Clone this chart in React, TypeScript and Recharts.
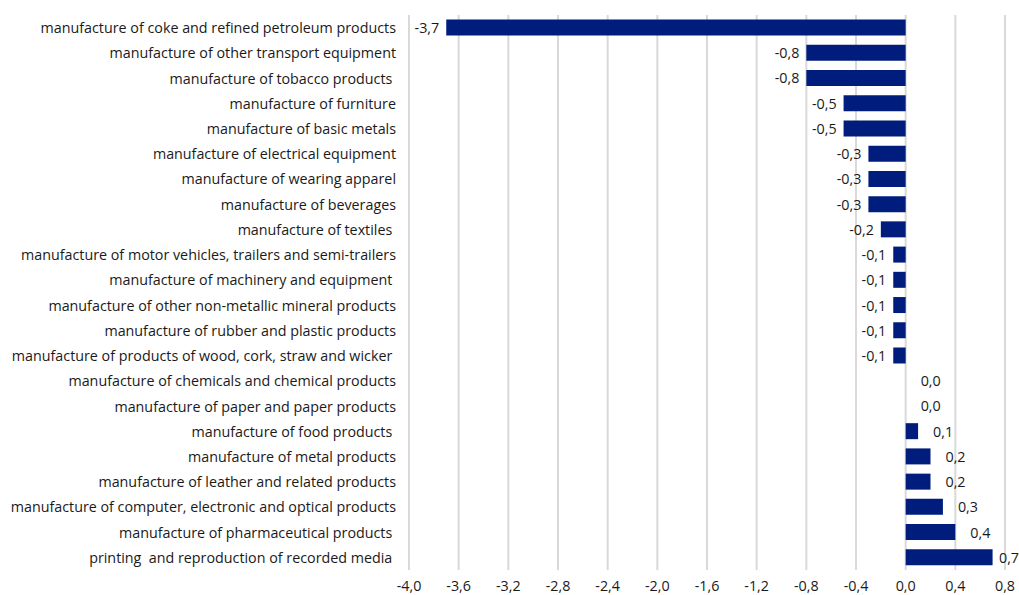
import { Bar, BarChart, CartesianGrid, Cell, LabelList, XAxis, YAxis } from "recharts";

if (typeof document !== "undefined") {
  document.body.style.margin = "0";
}

const sectors = [
  "manufacture of coke and refined petroleum products",
  "manufacture of other transport equipment",
  "manufacture of tobacco products ",
  "manufacture of furniture",
  "manufacture of basic metals",
  "manufacture of electrical equipment",
  "manufacture of wearing apparel",
  "manufacture of beverages",
  "manufacture of textiles ",
  "manufacture of motor vehicles, trailers and semi-trailers",
  "manufacture of machinery and equipment ",
  "manufacture of other non-metallic mineral products",
  "manufacture of rubber and plastic products",
  "manufacture of products of wood, cork, straw and wicker ",
  "manufacture of chemicals and chemical products",
  "manufacture of paper and paper products",
  "manufacture of food products ",
  "manufacture of metal products",
  "manufacture of leather and related products",
  "manufacture of computer, electronic and optical products",
  "manufacture of pharmaceutical products ",
  "printing  and reproduction of recorded media ",
];

const changes = [
  -3.7, -0.8, -0.8, -0.5, -0.5, -0.3, -0.3, -0.3, -0.2, -0.1, -0.1, -0.1, -0.1, -0.1, 0.0, 0.0, 0.1,
  0.2, 0.2, 0.3, 0.4, 0.7,
];

const xTicks = [-4.0, -3.6, -3.2, -2.8, -2.4, -2.0, -1.6, -1.2, -0.8, -0.4, 0.0, 0.4, 0.8];

const fmt = (v: number) => v.toFixed(1).replace(".", ",");

const data = sectors.map((name, i) => ({ name, value: changes[i], label: fmt(changes[i]) }));

const font = "'Open Sans', sans-serif";
const fs = 14.3;
const ink = "#1a1a1a";
const barColor = "#001c7c";

const CategoryTick = (props: any) => {
  const { x, y, payload } = props;
  return (
    <text
      x={x}
      y={y}
      textAnchor="end"
      dominantBaseline="central"
      fontFamily={font}
      fontSize={fs}
      fill={ink}
      style={{ whiteSpace: "pre" }}
    >
      {payload.value}
    </text>
  );
};

const ValueLabel = (props: any) => {
  const { x, y, width, height, value } = props;
  const v = parseFloat(String(value).replace(",", "."));
  const left = Math.min(x, x + width);
  const right = v === 0 ? x : Math.max(x, x + width);
  const cy = y + height / 2;
  if (v < 0) {
    return (
      <text x={left - 7} y={cy} textAnchor="end" dominantBaseline="central" fontFamily={font} fontSize={fs} fill={ink}>
        {value}
      </text>
    );
  }
  const lx = Math.min(right + 15, 999);
  return (
    <text x={lx} y={cy} textAnchor="start" dominantBaseline="central" fontFamily={font} fontSize={fs} fill={ink}>
      {value}
    </text>
  );
};

export default function App() {
  return (
    <div style={{ width: 1019, height: 595, background: "#fff" }}>
      <BarChart
        width={1019}
        height={595}
        data={data}
        layout="vertical"
        margin={{ top: 15, right: 14, bottom: 0, left: 0 }}
        barCategoryGap="18%"
      >
        <CartesianGrid horizontal={false} stroke="#d9d9d9" strokeWidth={2} />
        <XAxis
          type="number"
          domain={[-4, 0.8]}
          ticks={xTicks}
          interval={0}
          tickFormatter={(v) => fmt(Number(v))}
          axisLine={false}
          tickLine={false}
          tickSize={0}
          tickMargin={11}
          height={25}
          tick={{ fontFamily: font, fontSize: fs, fill: ink }}
        />
        <YAxis
          type="category"
          dataKey="name"
          width={409}
          axisLine={false}
          tickLine={false}
          tickSize={0}
          tickMargin={13}
          interval={0}
          tick={<CategoryTick />}
        />
        <Bar dataKey="value" fill={barColor} minPointSize={1} isAnimationActive={false}>
          {data.map((d) => (
            <Cell key={d.name} fill={d.value === 0 ? "transparent" : barColor} />
          ))}
          <LabelList dataKey="label" content={<ValueLabel />} />
        </Bar>
      </BarChart>
    </div>
  );
}
